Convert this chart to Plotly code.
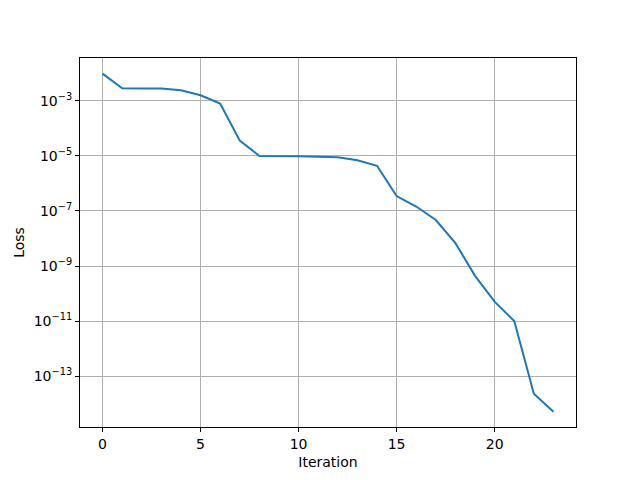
import plotly.graph_objects as go

iterations = list(range(24))
loss = [9.8e-3, 2.9e-3, 2.85e-3, 2.8e-3, 2.45e-3, 1.6e-3, 8.0e-4, 3.6e-5,
        1.0e-5, 1.0e-5, 9.7e-6, 9.3e-6, 8.9e-6, 7.0e-6, 4.4e-6, 3.5e-7,
        1.45e-7, 4.7e-8, 6.8e-9, 4.4e-10, 5.1e-11, 1.0e-11, 2.3e-14, 5.1e-15]

x_ticks = [0, 5, 10, 15, 20]
y_exps = [-3, -5, -7, -9, -11, -13]
y_tickvals = [10.0 ** e for e in y_exps]
y_ticktext = ["10<sup>\u2212%d</sup>" % (-e) for e in y_exps]

font = dict(family="DejaVu Sans", size=14, color="black")

fig = go.Figure()
fig.add_trace(go.Scatter(x=iterations, y=loss, mode="lines",
                         line=dict(color="#1f77b4", width=2)))

# page body has an 8px margin; size/margins compensate so the axes box
# lands at x 80-576, y 58-427 in the 640x480 window
fig.update_layout(
    width=624, height=464,
    margin=dict(l=72, r=56, t=50, b=45, autoexpand=False),
    paper_bgcolor="white", plot_bgcolor="white",
    showlegend=False, font=font,
)
fig.update_xaxes(
    range=[-1.15, 24.15], tickvals=x_ticks, ticks="outside", ticklen=4,
    tickcolor="black", tickfont=font, showline=True, linecolor="black",
    linewidth=1, mirror=True, showgrid=True, gridcolor="#b0b0b0",
    gridwidth=1, zeroline=False, automargin=False,
    title=dict(text="Iteration", font=font, standoff=6),
)
fig.update_yaxes(
    type="log", range=[-14.85, -1.44], tickvals=y_tickvals,
    ticktext=y_ticktext, tickfont=font, automargin=False,
    ticks="outside", ticklen=4, tickcolor="black", showline=True,
    linecolor="black", linewidth=1, mirror=True, showgrid=True,
    gridcolor="#b0b0b0", gridwidth=1, zeroline=False,
    title=dict(text="Loss", font=font, standoff=5),
)

fig.write_html("out.html")
